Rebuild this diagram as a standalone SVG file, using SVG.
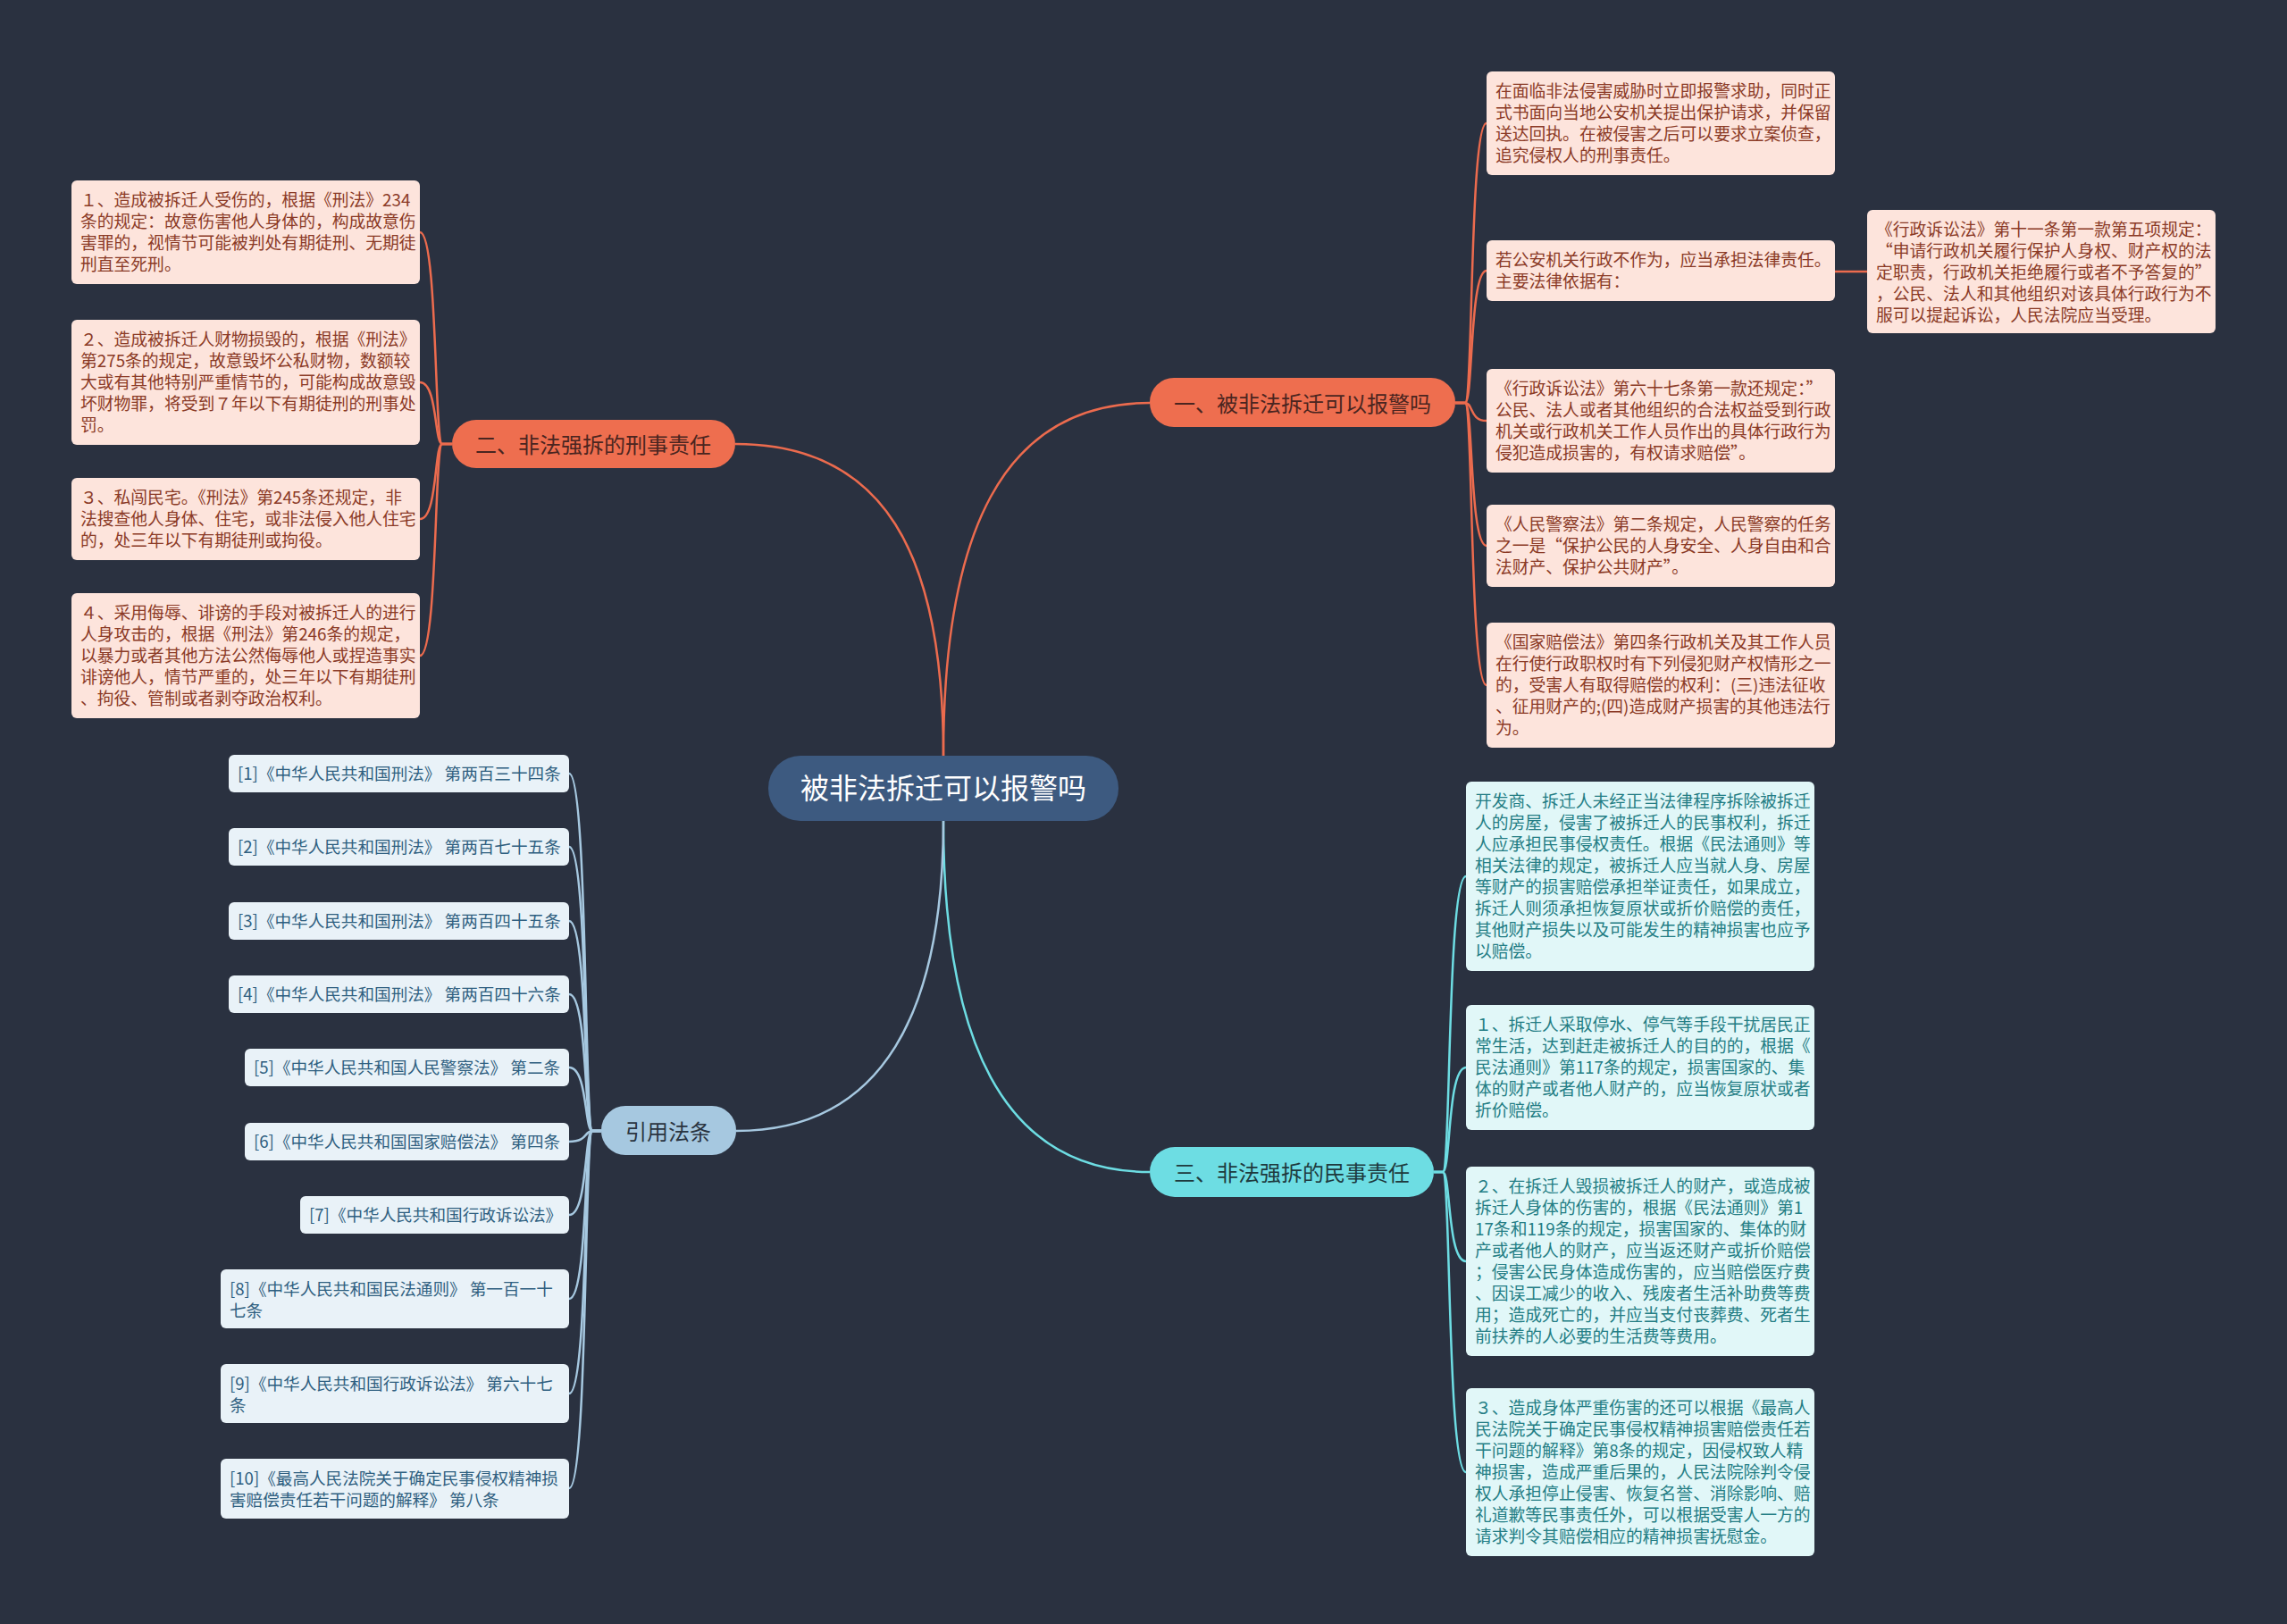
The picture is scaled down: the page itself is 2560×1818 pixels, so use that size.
<svg xmlns="http://www.w3.org/2000/svg" width="2560" height="1818" viewBox="0 0 2560 1818">
<style>
text{font-family:"Noto Sans CJK SC","Noto Sans",sans-serif;}
.lo{fill:#fde4dc;}
.to{fill:#8b3a26;font-size:18.8px;}
.lc{fill:#e1f7f8;}
.tc{fill:#237d84;font-size:18.8px;}
.lr{fill:#e9f2f8;}
.tr{fill:#2f5f80;font-size:18.6px;}
.bt{font-size:24px;text-anchor:middle;}
.co{fill:none;stroke:#ec6b4e;stroke-width:2.5;}
.cc{fill:none;stroke:#6ddde3;stroke-width:2.5;}
.cr{fill:none;stroke:#a6c8e0;stroke-width:2.5;}
</style>
<rect width="2560" height="1818" fill="#2a3140"/>
<g id="connectors">
<path class="co" d="M1056 846 C1056 600 1120 451 1287 451"/>
<path class="co" d="M1056 846 C1056 620 990 497 823 497"/>
<path class="cc" d="M1056 919 C1056 1160 1120 1312 1287 1312"/>
<path class="cr" d="M1056 919 C1056 1130 990 1266 824 1266"/>
<path class="co" d="M1629 451 H1640 C1649 451 1645 138 1664 138"/>
<path class="co" d="M1629 451 H1640 C1649 451 1645 303 1664 303"/>
<path class="co" d="M1629 451 H1640 C1649 451 1645 471 1664 471"/>
<path class="co" d="M1629 451 H1640 C1649 451 1645 611 1664 611"/>
<path class="co" d="M1629 451 H1640 C1649 451 1645 767 1664 767"/>
<path class="co" d="M2054 304 H2090"/>
<path class="co" d="M506 497 H495 C486 497 490 260 470 260"/>
<path class="co" d="M506 497 H495 C486 497 490 428 470 428"/>
<path class="co" d="M506 497 H495 C486 497 490 581 470 581"/>
<path class="co" d="M506 497 H495 C486 497 490 734 470 734"/>
<path class="cc" d="M1605 1312 H1615 C1624 1312 1620 981 1641 981"/>
<path class="cc" d="M1605 1312 H1615 C1624 1312 1620 1195 1641 1195"/>
<path class="cc" d="M1605 1312 H1615 C1624 1312 1620 1412 1641 1412"/>
<path class="cc" d="M1605 1312 H1615 C1624 1312 1620 1648 1641 1648"/>
<path class="cr" d="M673 1266 H663 C654 1266 658 866 637 866"/>
<path class="cr" d="M673 1266 H663 C654 1266 658 948 637 948"/>
<path class="cr" d="M673 1266 H663 C654 1266 658 1031 637 1031"/>
<path class="cr" d="M673 1266 H663 C654 1266 658 1113 637 1113"/>
<path class="cr" d="M673 1266 H663 C654 1266 658 1195 637 1195"/>
<path class="cr" d="M673 1266 H663 C654 1266 658 1278 637 1278"/>
<path class="cr" d="M673 1266 H663 C654 1266 658 1360 637 1360"/>
<path class="cr" d="M673 1266 H663 C654 1266 658 1454 637 1454"/>
<path class="cr" d="M673 1266 H663 C654 1266 658 1560 637 1560"/>
<path class="cr" d="M673 1266 H663 C654 1266 658 1666 637 1666"/>
</g>
<g id="root">
<rect x="860" y="846" width="392" height="73" rx="36" fill="#3d5a80"/>
<text x="1056" y="894" font-size="32" text-anchor="middle" fill="#ffffff">被非法拆迁可以报警吗</text>
</g>
<g id="b1">
<rect x="1287" y="423" width="342" height="55" rx="27" fill="#ee6e4f"/>
<text class="bt" x="1458" y="461" fill="#4a2520">一、被非法拆迁可以报警吗</text>
</g>
<g id="b2">
<rect x="506" y="470" width="317" height="54" rx="27" fill="#ee6e4f"/>
<text class="bt" x="664" y="507" fill="#4a2520">二、非法强拆的刑事责任</text>
</g>
<g id="b3">
<rect x="1287" y="1284" width="318" height="56" rx="28" fill="#6ddde3"/>
<text class="bt" x="1446" y="1322" fill="#1e3a3e">三、非法强拆的民事责任</text>
</g>
<g id="b4">
<rect x="673" y="1238" width="151" height="55" rx="27" fill="#a6c8e0"/>
<text class="bt" x="748" y="1276" fill="#2a3440">引用法条</text>
</g>
<g id="l1a">
<rect class="lo" x="1664" y="80" width="390" height="116" rx="6"/>
<text class="to" x="1674" y="109"><tspan x="1674">在面临非法侵害威胁时立即报警求助，同时正</tspan><tspan x="1674" dy="24">式书面向当地公安机关提出保护请求，并保留</tspan><tspan x="1674" dy="24">送达回执。在被侵害之后可以要求立案侦查，</tspan><tspan x="1674" dy="24">追究侵权人的刑事责任。</tspan></text>
</g>
<g id="l1b">
<rect class="lo" x="1664" y="269" width="390" height="68" rx="6"/>
<text class="to" x="1674" y="298"><tspan x="1674">若公安机关行政不作为，应当承担法律责任。</tspan><tspan x="1674" dy="24">主要法律依据有：</tspan></text>
</g>
<g id="l1b1">
<rect class="lo" x="2090" y="235" width="390" height="138" rx="6"/>
<text class="to" x="2100" y="264"><tspan x="2100">《行政诉讼法》第十一条第一款第五项规定：</tspan><tspan x="2100" dy="24">“申请行政机关履行保护人身权、财产权的法</tspan><tspan x="2100" dy="24">定职责，行政机关拒绝履行或者不予答复的”</tspan><tspan x="2100" dy="24">，公民、法人和其他组织对该具体行政行为不</tspan><tspan x="2100" dy="24">服可以提起诉讼，人民法院应当受理。</tspan></text>
</g>
<g id="l1c">
<rect class="lo" x="1664" y="413" width="390" height="116" rx="6"/>
<text class="to" x="1674" y="442"><tspan x="1674">《行政诉讼法》第六十七条第一款还规定：”</tspan><tspan x="1674" dy="24">公民、法人或者其他组织的合法权益受到行政</tspan><tspan x="1674" dy="24">机关或行政机关工作人员作出的具体行政行为</tspan><tspan x="1674" dy="24">侵犯造成损害的，有权请求赔偿”。</tspan></text>
</g>
<g id="l1d">
<rect class="lo" x="1664" y="565" width="390" height="92" rx="6"/>
<text class="to" x="1674" y="594"><tspan x="1674">《人民警察法》第二条规定，人民警察的任务</tspan><tspan x="1674" dy="24">之一是“保护公民的人身安全、人身自由和合</tspan><tspan x="1674" dy="24">法财产、保护公共财产”。</tspan></text>
</g>
<g id="l1e">
<rect class="lo" x="1664" y="697" width="390" height="140" rx="6"/>
<text class="to" x="1674" y="726"><tspan x="1674">《国家赔偿法》第四条行政机关及其工作人员</tspan><tspan x="1674" dy="24">在行使行政职权时有下列侵犯财产权情形之一</tspan><tspan x="1674" dy="24">的，受害人有取得赔偿的权利：(三)违法征收</tspan><tspan x="1674" dy="24">、征用财产的;(四)造成财产损害的其他违法行</tspan><tspan x="1674" dy="24">为。</tspan></text>
</g>
<g id="l2a">
<rect class="lo" x="80" y="202" width="390" height="116" rx="6"/>
<text class="to" x="90" y="231"><tspan x="90">１、造成被拆迁人受伤的，根据《刑法》234</tspan><tspan x="90" dy="24">条的规定：故意伤害他人身体的，构成故意伤</tspan><tspan x="90" dy="24">害罪的，视情节可能被判处有期徒刑、无期徒</tspan><tspan x="90" dy="24">刑直至死刑。</tspan></text>
</g>
<g id="l2b">
<rect class="lo" x="80" y="358" width="390" height="140" rx="6"/>
<text class="to" x="90" y="387"><tspan x="90">２、造成被拆迁人财物损毁的，根据《刑法》</tspan><tspan x="90" dy="24">第275条的规定，故意毁坏公私财物，数额较</tspan><tspan x="90" dy="24">大或有其他特别严重情节的，可能构成故意毁</tspan><tspan x="90" dy="24">坏财物罪，将受到７年以下有期徒刑的刑事处</tspan><tspan x="90" dy="24">罚。</tspan></text>
</g>
<g id="l2c">
<rect class="lo" x="80" y="535" width="390" height="92" rx="6"/>
<text class="to" x="90" y="564"><tspan x="90">３、私闯民宅。《刑法》第245条还规定，非</tspan><tspan x="90" dy="24">法搜查他人身体、住宅，或非法侵入他人住宅</tspan><tspan x="90" dy="24">的，处三年以下有期徒刑或拘役。</tspan></text>
</g>
<g id="l2d">
<rect class="lo" x="80" y="664" width="390" height="140" rx="6"/>
<text class="to" x="90" y="693"><tspan x="90">４、采用侮辱、诽谤的手段对被拆迁人的进行</tspan><tspan x="90" dy="24">人身攻击的，根据《刑法》第246条的规定，</tspan><tspan x="90" dy="24">以暴力或者其他方法公然侮辱他人或捏造事实</tspan><tspan x="90" dy="24">诽谤他人，情节严重的，处三年以下有期徒刑</tspan><tspan x="90" dy="24">、拘役、管制或者剥夺政治权利。</tspan></text>
</g>
<g id="l3a">
<rect class="lc" x="1641" y="875" width="390" height="212" rx="6"/>
<text class="tc" x="1651" y="904"><tspan x="1651">开发商、拆迁人未经正当法律程序拆除被拆迁</tspan><tspan x="1651" dy="24">人的房屋，侵害了被拆迁人的民事权利，拆迁</tspan><tspan x="1651" dy="24">人应承担民事侵权责任。根据《民法通则》等</tspan><tspan x="1651" dy="24">相关法律的规定，被拆迁人应当就人身、房屋</tspan><tspan x="1651" dy="24">等财产的损害赔偿承担举证责任，如果成立，</tspan><tspan x="1651" dy="24">拆迁人则须承担恢复原状或折价赔偿的责任，</tspan><tspan x="1651" dy="24">其他财产损失以及可能发生的精神损害也应予</tspan><tspan x="1651" dy="24">以赔偿。</tspan></text>
</g>
<g id="l3b">
<rect class="lc" x="1641" y="1125" width="390" height="140" rx="6"/>
<text class="tc" x="1651" y="1154"><tspan x="1651">１、拆迁人采取停水、停气等手段干扰居民正</tspan><tspan x="1651" dy="24">常生活，达到赶走被拆迁人的目的的，根据《</tspan><tspan x="1651" dy="24">民法通则》第117条的规定，损害国家的、集</tspan><tspan x="1651" dy="24">体的财产或者他人财产的，应当恢复原状或者</tspan><tspan x="1651" dy="24">折价赔偿。</tspan></text>
</g>
<g id="l3c">
<rect class="lc" x="1641" y="1306" width="390" height="212" rx="6"/>
<text class="tc" x="1651" y="1335"><tspan x="1651">２、在拆迁人毁损被拆迁人的财产，或造成被</tspan><tspan x="1651" dy="24">拆迁人身体的伤害的，根据《民法通则》第1</tspan><tspan x="1651" dy="24">17条和119条的规定，损害国家的、集体的财</tspan><tspan x="1651" dy="24">产或者他人的财产，应当返还财产或折价赔偿</tspan><tspan x="1651" dy="24">；侵害公民身体造成伤害的，应当赔偿医疗费</tspan><tspan x="1651" dy="24">、因误工减少的收入、残废者生活补助费等费</tspan><tspan x="1651" dy="24">用；造成死亡的，并应当支付丧葬费、死者生</tspan><tspan x="1651" dy="24">前扶养的人必要的生活费等费用。</tspan></text>
</g>
<g id="l3d">
<rect class="lc" x="1641" y="1554" width="390" height="188" rx="6"/>
<text class="tc" x="1651" y="1583"><tspan x="1651">３、造成身体严重伤害的还可以根据《最高人</tspan><tspan x="1651" dy="24">民法院关于确定民事侵权精神损害赔偿责任若</tspan><tspan x="1651" dy="24">干问题的解释》第8条的规定，因侵权致人精</tspan><tspan x="1651" dy="24">神损害，造成严重后果的，人民法院除判令侵</tspan><tspan x="1651" dy="24">权人承担停止侵害、恢复名誉、消除影响、赔</tspan><tspan x="1651" dy="24">礼道歉等民事责任外，可以根据受害人一方的</tspan><tspan x="1651" dy="24">请求判令其赔偿相应的精神损害抚慰金。</tspan></text>
</g>
<g id="r1">
<rect class="lr" x="256" y="845" width="381" height="42" rx="6"/>
<text class="tr" x="266" y="873">[1]《中华人民共和国刑法》 第两百三十四条</text>
</g>
<g id="r2">
<rect class="lr" x="256" y="927" width="381" height="42" rx="6"/>
<text class="tr" x="266" y="955">[2]《中华人民共和国刑法》 第两百七十五条</text>
</g>
<g id="r3">
<rect class="lr" x="256" y="1010" width="381" height="42" rx="6"/>
<text class="tr" x="266" y="1038">[3]《中华人民共和国刑法》 第两百四十五条</text>
</g>
<g id="r4">
<rect class="lr" x="256" y="1092" width="381" height="42" rx="6"/>
<text class="tr" x="266" y="1120">[4]《中华人民共和国刑法》 第两百四十六条</text>
</g>
<g id="r5">
<rect class="lr" x="274" y="1174" width="363" height="42" rx="6"/>
<text class="tr" x="284" y="1202">[5]《中华人民共和国人民警察法》 第二条</text>
</g>
<g id="r6">
<rect class="lr" x="274" y="1257" width="363" height="42" rx="6"/>
<text class="tr" x="284" y="1285">[6]《中华人民共和国国家赔偿法》 第四条</text>
</g>
<g id="r7">
<rect class="lr" x="336" y="1339" width="301" height="42" rx="6"/>
<text class="tr" x="346" y="1367">[7]《中华人民共和国行政诉讼法》</text>
</g>
<g id="r8">
<rect class="lr" x="247" y="1421" width="390" height="66" rx="6"/>
<text class="tr" x="257" y="1450"><tspan x="257">[8]《中华人民共和国民法通则》 第一百一十</tspan><tspan x="257" dy="24">七条</tspan></text>
</g>
<g id="r9">
<rect class="lr" x="247" y="1527" width="390" height="66" rx="6"/>
<text class="tr" x="257" y="1556"><tspan x="257">[9]《中华人民共和国行政诉讼法》 第六十七</tspan><tspan x="257" dy="24">条</tspan></text>
</g>
<g id="r10">
<rect class="lr" x="247" y="1633" width="390" height="67" rx="6"/>
<text class="tr" x="257" y="1662"><tspan x="257">[10]《最高人民法院关于确定民事侵权精神损</tspan><tspan x="257" dy="24">害赔偿责任若干问题的解释》 第八条</tspan></text>
</g>
</svg>
